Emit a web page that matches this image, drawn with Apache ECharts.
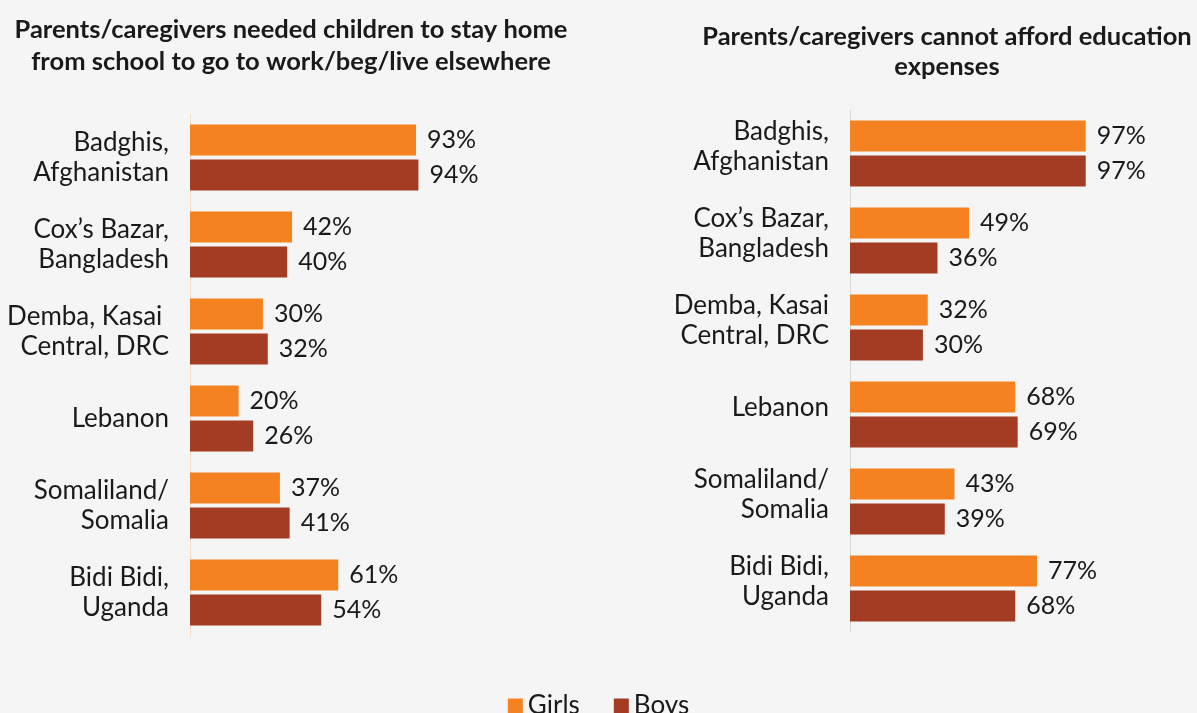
<!DOCTYPE html>
<html><head><meta charset="utf-8">
<script src="https://cdn.jsdelivr.net/npm/echarts@6/dist/echarts.min.js"></script>
<style>html,body{margin:0;padding:0;background:#f5f5f5}#c{width:1197px;height:713px}</style>
</head><body><div id="c"></div>
<script>
const categoriesLeft = ['Badghis,\nAfghanistan', 'Cox\u2019s Bazar,\nBangladesh', 'Demba, Kasai \nCentral, DRC', 'Lebanon', 'Somaliland/\nSomalia', 'Bidi Bidi,\nUganda'];
const categoriesRight = ['Badghis,\nAfghanistan', 'Cox\u2019s Bazar,\nBangladesh', 'Demba, Kasai\nCentral, DRC', 'Lebanon', 'Somaliland/\nSomalia', 'Bidi Bidi,\nUganda'];
const girlsWork = [93, 42, 30, 20, 37, 61];
const boysWork = [94, 40, 32, 26, 41, 54];
const girlsAfford = [97, 49, 32, 68, 43, 77];
const boysAfford = [97, 36, 30, 69, 39, 68];
const titleLeft = 'Parents/caregivers needed children to stay home\nfrom school to go to work/beg/live elsewhere';
const titleRight = 'Parents/caregivers cannot afford education\nexpenses';

const GIRL = '#F58221', BOY = '#A33C22';
const FONT = 'Lato, "Noto Sans", sans-serif';
const chart = echarts.init(document.getElementById('c'));
const lbl = {show: true, position: 'right', distance: 11, formatter: '{c}%', color: '#1a1a1a', fontSize: 25, fontFamily: FONT};
function bar(name, data, idx, color) {
  return {name, type: 'bar', xAxisIndex: idx, yAxisIndex: idx, data, barWidth: 31, barGap: '13%',
    itemStyle: {color}, label: lbl, silent: true};
}
function yAx(cats, idx, lineColor, lift) {
  const ax = {type: 'category', gridIndex: idx, data: cats, inverse: true,
    axisLine: {show: true, lineStyle: {color: lineColor, width: 1}}, axisTick: {show: false},
    axisLabel: {color: '#1a1a1a', fontSize: 26, fontFamily: FONT, lineHeight: 30, margin: 21, align: 'right'}};
  if (lift) {
    ax.axisLabel.formatter = v => v.split('\n').map(s => '{t|' + s + '}').join('\n') + '\n{s|}';
    ax.axisLabel.rich = {
      t: {fontSize: 26, fontFamily: FONT, lineHeight: 30, color: '#1a1a1a', align: 'right'},
      s: {fontSize: 2, lineHeight: lift, align: 'right'}
    };
  }
  return ax;
}
function xAx(idx) {
  return {type: 'value', gridIndex: idx, min: 0, max: 100, show: false, splitLine: {show: false}};
}
chart.setOption({
  backgroundColor: '#f5f5f5',
  animation: false,
  textStyle: {fontFamily: FONT},
  title: [
    {text: titleLeft, left: 286, top: 9, textAlign: 'center', textStyle: {fontSize: 25.5, fontWeight: 'bold', color: '#1a1a1a', fontFamily: FONT, lineHeight: 32}},
    {text: titleRight, left: 942, top: 17, textAlign: 'center', textStyle: {fontSize: 25.5, fontWeight: 'bold', color: '#1a1a1a', fontFamily: FONT, lineHeight: 30}}
  ],
  legend: {data: ['Girls', 'Boys'], top: 688, left: 'center', itemWidth: 15, itemHeight: 15, itemGap: 34,
    icon: 'rect', textStyle: {fontSize: 26, color: '#1a1a1a', fontFamily: FONT}, selectedMode: false},
  grid: [
    {left: 190, top: 114, width: 243, height: 522},
    {left: 850, top: 110, width: 243, height: 522}
  ],
  xAxis: [xAx(0), xAx(1)],
  yAxis: [yAx(categoriesLeft, 0, '#F8DCC4', 0), yAx(categoriesRight, 1, '#D9D9D9', 14)],
  series: [
    bar('Girls', girlsWork, 0, GIRL), bar('Boys', boysWork, 0, BOY),
    bar('Girls', girlsAfford, 1, GIRL), bar('Boys', boysAfford, 1, BOY)
  ]
});
</script></body></html>
